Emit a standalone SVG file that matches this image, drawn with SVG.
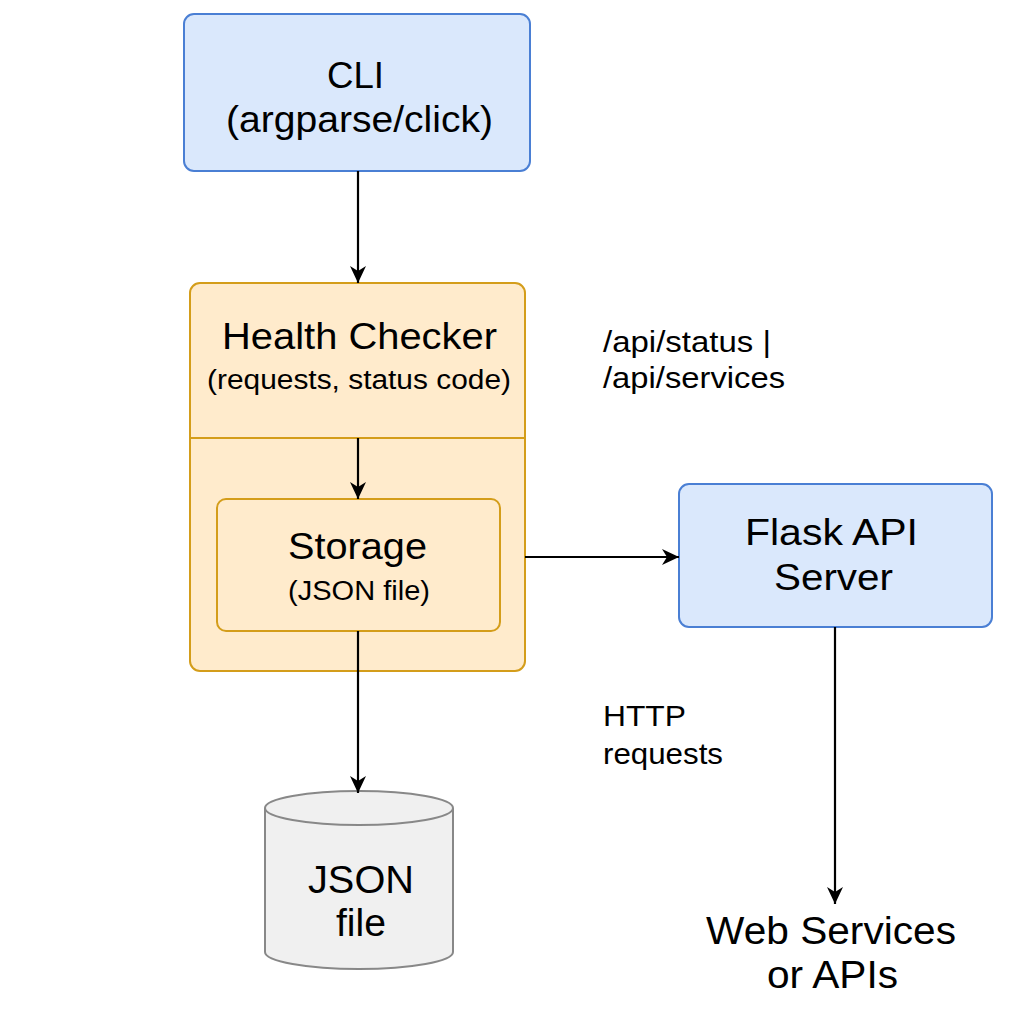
<svg xmlns="http://www.w3.org/2000/svg" width="1024" height="1024" viewBox="0 0 1024 1024">
<defs>
<style>
.t{font-family:"Liberation Sans",Arial,sans-serif;fill:#000;}
.blue{fill:#dae8fc;stroke:#4a7fd4;stroke-width:2;}
.orange{fill:#ffebcc;stroke:#d49d1a;stroke-width:2;}
.conn{stroke:#000;stroke-width:2.2;fill:none;}
</style>
<marker id="ah" markerWidth="20" markerHeight="20" refX="17" refY="10" orient="auto" markerUnits="userSpaceOnUse">
<path d="M0,2 L17,10 L0,18 L5,10 Z" fill="#000"/>
</marker>
</defs>
<rect width="1024" height="1024" fill="#fff"/>
<g id="cli">
<rect class="blue" x="184" y="14" width="346" height="157" rx="10"/>
<text class="t" x="327" y="88" font-size="36" textLength="57" lengthAdjust="spacingAndGlyphs">CLI</text>
<text class="t" x="226" y="132" font-size="36" textLength="267" lengthAdjust="spacingAndGlyphs">(argparse/click)</text>
</g>
<g id="health-checker">
<rect class="orange" x="190" y="283" width="335" height="388" rx="10"/>
<line x1="190" y1="438" x2="525" y2="438" stroke="#d49d1a" stroke-width="2"/>
<text class="t" x="222" y="349" font-size="37" textLength="275" lengthAdjust="spacingAndGlyphs">Health Checker</text>
<text class="t" x="207" y="389" font-size="27" textLength="304" lengthAdjust="spacingAndGlyphs">(requests, status code)</text>
</g>
<g id="storage">
<rect class="orange" x="217" y="499" width="283" height="132" rx="9"/>
<text class="t" x="288" y="559" font-size="37" textLength="139" lengthAdjust="spacingAndGlyphs">Storage</text>
<text class="t" x="288" y="600" font-size="27" textLength="142" lengthAdjust="spacingAndGlyphs">(JSON file)</text>
</g>
<g id="json-file">
<path d="M265,808 L265,952 A94,17 0 0 0 453,952 L453,808" fill="#f0f0f0" stroke="#888" stroke-width="2"/>
<ellipse cx="359" cy="808" rx="94" ry="17" fill="#f0f0f0" stroke="#888" stroke-width="2"/>
<text class="t" x="308" y="893" font-size="38" textLength="106" lengthAdjust="spacingAndGlyphs">JSON</text>
<text class="t" x="336" y="936" font-size="38" textLength="50" lengthAdjust="spacingAndGlyphs">file</text>
</g>
<g id="flask">
<rect class="blue" x="679" y="484" width="313" height="143" rx="10"/>
<text class="t" x="745" y="545" font-size="37" textLength="173" lengthAdjust="spacingAndGlyphs">Flask API</text>
<text class="t" x="774" y="590" font-size="37" textLength="119" lengthAdjust="spacingAndGlyphs">Server</text>
</g>
<g id="web-services">
<text class="t" x="706" y="944" font-size="39" textLength="250" lengthAdjust="spacingAndGlyphs">Web Services</text>
<text class="t" x="767" y="988" font-size="39" textLength="131" lengthAdjust="spacingAndGlyphs">or APIs</text>
</g>
<g id="labels">
<text class="t" x="603" y="352" font-size="29" textLength="168" lengthAdjust="spacingAndGlyphs">/api/status |</text>
<text class="t" x="603" y="388" font-size="29" textLength="182" lengthAdjust="spacingAndGlyphs">/api/services</text>
<text class="t" x="603" y="726" font-size="29" textLength="83" lengthAdjust="spacingAndGlyphs">HTTP</text>
<text class="t" x="603" y="764" font-size="29" textLength="120" lengthAdjust="spacingAndGlyphs">requests</text>
</g>
<g id="connectors">
<line class="conn" x1="358" y1="171" x2="358" y2="283" marker-end="url(#ah)"/>
<line class="conn" x1="358" y1="438" x2="358" y2="499" marker-end="url(#ah)"/>
<line class="conn" x1="358" y1="631" x2="358" y2="793" marker-end="url(#ah)"/>
<line class="conn" x1="525" y1="557" x2="679" y2="557" marker-end="url(#ah)"/>
<line class="conn" x1="835" y1="627" x2="835" y2="904" marker-end="url(#ah)"/>
</g>
</svg>
